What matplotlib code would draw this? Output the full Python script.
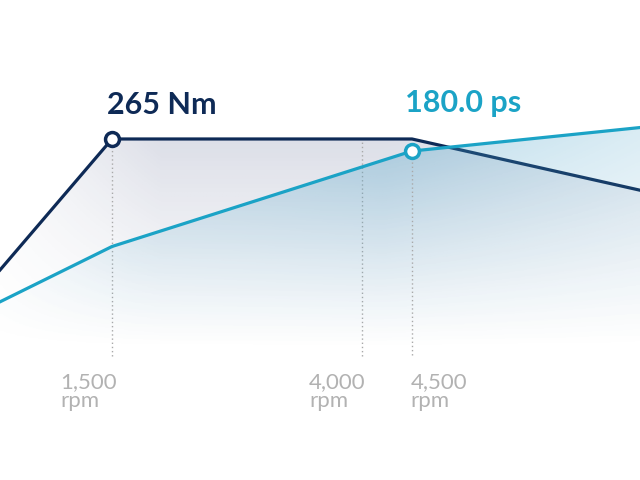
import numpy as np
import matplotlib
matplotlib.use("Agg")
import matplotlib.pyplot as plt

# engine curves (rpm on x)
rpm = [380, 1500, 4500, 6780]
torque_nm = [132, 265, 265, 213]
power_ps = [71, 111, 180, 197]

marks = [1500, 4000, 4500]
mark_labels = ["1,500\nrpm", "4,000\nrpm", "4,500\nrpm"]

navy = "#0e2a56"
cyan = "#1ba3c6"
grey = "#a9a9a9"

plt.rcParams["font.family"] = ["Lato", "DejaVu Sans"]

fig = plt.figure(figsize=(6.4, 4.8), dpi=100)
ax = fig.add_axes([0, 0, 1, 1])
ax2 = ax.twinx()

xlim = (380, 6780)
tq_lim = (-81.2, 406.1)
pw_lim = (-57.8, 289.2)


def gradient_fill(a, x, y, ylim, rgb, top_alpha, hfade):
    poly = a.fill_between(x, y, ylim[0], facecolor="none", edgecolor="none")
    ny, nx = 200, 200
    fy = np.linspace(0, 1, ny)[:, None]
    fx = np.linspace(0, 1, nx)[None, :]
    # fade out towards the bottom of the chart
    v = np.clip((fy - 0.27) / (0.73 - 0.27), 0, 1) ** 1.2
    h = np.interp(fx, hfade[0], hfade[1])
    img = np.zeros((ny, nx, 4))
    img[..., :3] = np.array(rgb) / 255
    img[..., 3] = top_alpha * v * h
    im = a.imshow(img, extent=[xlim[0], xlim[1], ylim[0], ylim[1]],
                  origin="lower", aspect="auto", zorder=1)
    im.set_clip_path(poly.get_paths()[0], transform=a.transData)


gradient_fill(ax, rpm, torque_nm, tq_lim, (40, 55, 110), 0.17,
              ([0, 0.25, 0.6, 1], [0.2, 1, 1, 0.6]))
gradient_fill(ax2, rpm, power_ps, pw_lim, (70, 160, 200), 0.37,
              ([0, 0.2, 0.6, 1], [0.2, 0.8, 1, 0.55]))

# dotted guides
ax.vlines(marks[:2], tq_lim[0] + 126, 265, colors=grey, linestyles=(0, (1, 2)), lw=1, zorder=2)
ax2.vlines(marks[2], pw_lim[0] + 90.5, 180, colors=grey, linestyles=(0, (1, 2)), lw=1, zorder=2)

ax.plot(rpm, torque_nm, color=navy, lw=2.3, zorder=4)
ax2.plot(rpm, power_ps, color=cyan, lw=2.3, zorder=3)
ax.plot(rpm[1], torque_nm[1], "o", ms=10, mfc="white", mec=navy, mew=2.5, zorder=5)
ax2.plot(rpm[2], power_ps[2], "o", ms=10, mfc="white", mec=cyan, mew=2.5, zorder=5)

ax.annotate("265 Nm", (rpm[1], torque_nm[1]), xytext=(36, 18), textcoords="offset points",
            ha="center", va="baseline", fontsize=22, fontweight="bold", color=navy)
ax2.annotate("180.0 ps", (rpm[2], power_ps[2]), xytext=(37, 28), textcoords="offset points",
             ha="center", va="baseline", fontsize=22, fontweight="bold", color=cyan)

offsets = [-37, -38, -1]
for m, lab, dx in zip(marks, mark_labels, offsets):
    ax.annotate(lab, (m, tq_lim[0]), xytext=(dx, 78), textcoords="offset points",
                ha="left", va="top", fontsize=16, color="#b2b2b2", linespacing=0.97)

for a, yl in ((ax, tq_lim), (ax2, pw_lim)):
    a.set_xlim(xlim)
    a.set_ylim(yl)
    a.axis("off")

fig.savefig("out.png", dpi=100)
